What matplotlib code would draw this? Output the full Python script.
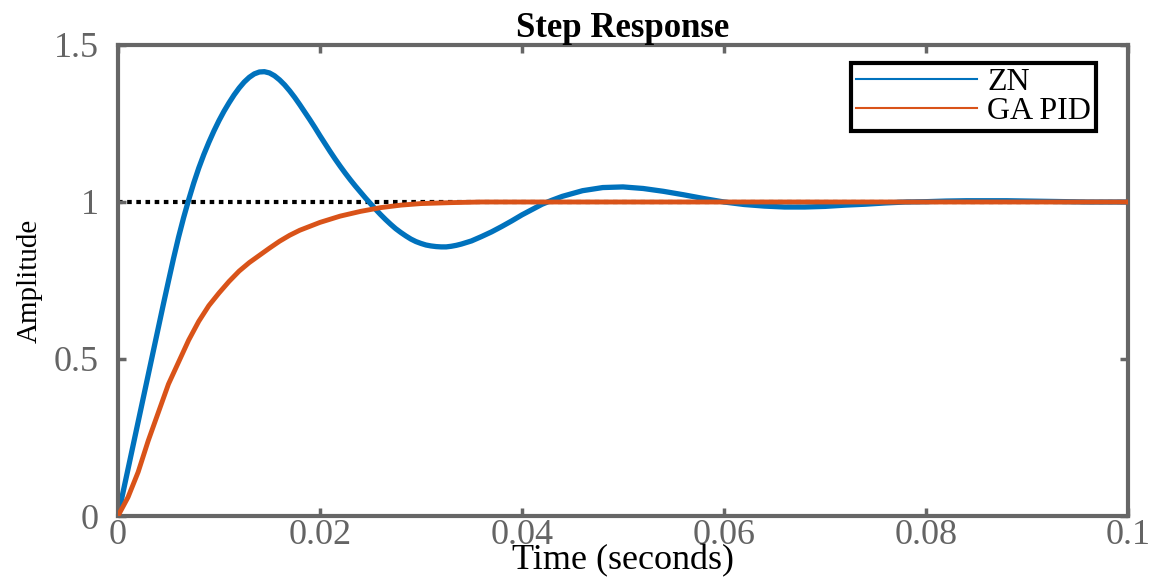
import matplotlib
matplotlib.use("Agg")
import matplotlib.pyplot as plt
from matplotlib.lines import Line2D

# step responses (time in seconds)
t_zn = [0, 0.0005, 0.001, 0.0015, 0.002, 0.0025, 0.003, 0.0035, 0.004, 0.0045,
        0.005, 0.0055, 0.006, 0.0065, 0.007, 0.0075, 0.008, 0.0085, 0.009, 0.0095,
        0.010, 0.0105, 0.011, 0.0115, 0.012, 0.0125, 0.013, 0.0135, 0.014, 0.0145,
        0.015, 0.0155, 0.016, 0.0165, 0.017, 0.0175, 0.018, 0.0185, 0.019, 0.0195,
        0.020, 0.0205, 0.021, 0.0215, 0.022, 0.0225, 0.023, 0.0235, 0.024, 0.0245,
        0.025, 0.0255, 0.026, 0.0265, 0.027, 0.0275, 0.028, 0.0285, 0.029, 0.0295,
        0.030, 0.0305, 0.031, 0.0315, 0.032, 0.0325, 0.033, 0.0335, 0.034, 0.035,
        0.036, 0.037, 0.038, 0.039, 0.040, 0.041, 0.042, 0.043, 0.044, 0.046,
        0.048, 0.050, 0.052, 0.054, 0.056, 0.058, 0.060, 0.062, 0.064, 0.066,
        0.068, 0.070, 0.072, 0.074, 0.076, 0.078, 0.080, 0.082, 0.084, 0.086,
        0.088, 0.090, 0.092, 0.094, 0.096, 0.100]
zn = [0, 0.075, 0.15, 0.225, 0.30, 0.375, 0.45, 0.525, 0.60, 0.675,
      0.748, 0.82, 0.888, 0.95, 1.007, 1.06, 1.108, 1.151, 1.19, 1.226,
      1.259, 1.289, 1.316, 1.341, 1.363, 1.382, 1.397, 1.408, 1.414, 1.415,
      1.411, 1.402, 1.389, 1.373, 1.354, 1.333, 1.310, 1.286, 1.262, 1.237,
      1.211, 1.186, 1.161, 1.137, 1.114, 1.092, 1.071, 1.051, 1.032, 1.013,
      0.995, 0.977, 0.960, 0.944, 0.929, 0.915, 0.903, 0.892, 0.882, 0.874,
      0.868, 0.863, 0.860, 0.858, 0.857, 0.857, 0.859, 0.862, 0.866, 0.876,
      0.890, 0.905, 0.922, 0.940, 0.959, 0.976, 0.993, 1.006, 1.018, 1.036,
      1.046, 1.048, 1.043, 1.034, 1.023, 1.011, 1.0, 0.992, 0.987, 0.984,
      0.984, 0.986, 0.990, 0.993, 0.997, 1.0, 1.001, 1.003, 1.004, 1.004,
      1.004, 1.003, 1.002, 1.001, 1.0, 1.0]

t_ga = [0, 0.001, 0.002, 0.003, 0.004, 0.005, 0.006, 0.007, 0.008, 0.009,
        0.010, 0.011, 0.012, 0.013, 0.014, 0.015, 0.016, 0.017, 0.018, 0.020,
        0.022, 0.024, 0.026, 0.028, 0.030, 0.033, 0.036, 0.040, 0.050, 0.100]
ga = [0, 0.06, 0.14, 0.24, 0.33, 0.42, 0.49, 0.56, 0.62, 0.67,
      0.71, 0.747, 0.78, 0.807, 0.83, 0.853, 0.875, 0.894, 0.91, 0.935,
      0.955, 0.97, 0.982, 0.99, 0.995, 0.998, 1.0, 1.0, 1.0, 1.0]

t_ref = [0, 0.1]
ref = [1, 1]

labels = ["ZN", "GA PID"]
colors = ["#0072BD", "#D95319"]
xticks = [0, 0.02, 0.04, 0.06, 0.08, 0.1]
xticklabels = ["0", "0.02", "0.04", "0.06", "0.08", "0.1"]
yticks = [0, 0.5, 1, 1.5]
yticklabels = ["0", "0.5", "1", "1.5"]

plt.rcParams["font.family"] = ["Liberation Serif", "DejaVu Serif"]

fig = plt.figure(figsize=(11.53, 5.79), dpi=100)
ax = fig.add_axes([0.1023, 0.1088, 0.876, 0.8135])

ax.plot(t_ref, ref, color="black", lw=3, linestyle=(0, (1.1, 1.1)), zorder=1)
ax.plot(t_zn, zn, color=colors[0], lw=3.8, zorder=2, solid_joinstyle="round")
ax.plot(t_ga, ga, color=colors[1], lw=3.5, zorder=3, solid_joinstyle="round")

ax.set_xlim(0, 0.1)
ax.set_ylim(0, 1.5)
ax.set_xticks(xticks)
ax.set_xticklabels(xticklabels)
ax.set_yticks(yticks)
ax.set_yticklabels(yticklabels)

gray = "#666666"
for s in ax.spines.values():
    s.set_color(gray)
    s.set_linewidth(3)
ax.tick_params(direction="in", length=6, width=2.5, color=gray,
               labelcolor="#646464", labelsize=26,
               top=True, right=True)
ax.tick_params(axis="x", pad=2)
ax.tick_params(axis="y", pad=14)

ax.set_title("Step Response", fontsize=25, fontweight="bold", pad=6)
ax.set_xlabel("Time (seconds)", fontsize=26, va="bottom")
ax.xaxis.set_label_coords(0.5, -0.131)
ax.set_ylabel("Amplitude", fontsize=21, labelpad=8)

handles = [Line2D([], [], color=c, lw=1.5) for c in colors]
leg = ax.legend(handles, labels, loc="upper right",
                bbox_to_anchor=(0.968, 0.962), fontsize=23,
                fancybox=False, framealpha=1, edgecolor="black",
                handlelength=3.8, handletextpad=0.3, borderpad=0.15,
                labelspacing=0.0, borderaxespad=0)
leg.get_frame().set_linewidth(3)

fig.savefig("out.png", dpi=100)
